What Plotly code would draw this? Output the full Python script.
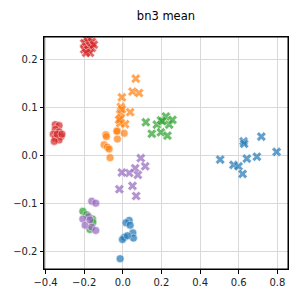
import plotly.graph_objects as go

# colours (tab10)
blue, orange, green, red, purple = "#1f77b4", "#ff7f0e", "#2ca02c", "#d62728", "#9467bd"

red_x_x = [-0.19, -0.17, -0.20, -0.18, -0.16, -0.19, -0.17, -0.20, -0.18, -0.16, -0.17, -0.19, -0.15]
red_x_y = [0.245, 0.245, 0.235, 0.238, 0.238, 0.228, 0.230, 0.222, 0.222, 0.225, 0.215, 0.215, 0.232]

red_o_x = [-0.35, -0.33, -0.35, -0.33, -0.36, -0.32, -0.35, -0.33, -0.355, -0.34, -0.315]
red_o_y = [0.065, 0.063, 0.055, 0.050, 0.045, 0.040, 0.037, 0.033, 0.030, 0.045, 0.045]

orange_x_x = [0.067, 0.05, 0.084, -0.005, -0.01, 0.038, -0.014, -0.01, 0.012, -0.014, -0.019, -0.005]
orange_x_y = [0.161, 0.134, 0.131, 0.122, 0.102, 0.091, 0.087, 0.079, 0.066, 0.068, 0.075, 0.097]

orange_o_x = [-0.088, -0.028, 0.007, -0.028, -0.097, -0.080, -0.071, -0.066, -0.031, -0.085]
orange_o_y = [0.044, 0.052, 0.047, 0.035, 0.023, 0.018, 0.014, -0.004, 0.051, 0.040]

green_x_x = [0.119, 0.15, 0.176, 0.197, 0.197, 0.223, 0.24, 0.257, 0.231, 0.205]
green_x_y = [0.070, 0.046, 0.065, 0.074, 0.049, 0.082, 0.065, 0.075, 0.042, 0.072]

green_o_x = [-0.207, -0.157, -0.17, -0.187, -0.155]
green_o_y = [-0.116, -0.132, -0.154, -0.123, -0.139]

purple_x_x = [0.093, 0.116, 0.064, 0.033, -0.005, 0.078, -0.018, 0.05, 0.069]
purple_x_y = [-0.005, -0.022, -0.026, -0.036, -0.035, -0.040, -0.070, -0.063, -0.084]

purple_o_x = [-0.161, -0.14, -0.178, -0.207, -0.195, -0.161, -0.14, -0.17]
purple_o_y = [-0.095, -0.099, -0.127, -0.132, -0.145, -0.149, -0.156, -0.134]

blue_o_x = [0.033, 0.016, 0.038, 0.052, 0.055, 0.008, -0.002, 0.024, -0.014]
blue_o_y = [-0.135, -0.140, -0.145, -0.161, -0.172, -0.170, -0.175, -0.167, -0.215]

blue_x_x = [0.625, 0.628, 0.717, 0.796, 0.504, 0.573, 0.599, 0.642, 0.694, 0.62]
blue_x_y = [0.030, 0.025, 0.040, 0.008, -0.008, -0.019, -0.022, -0.006, -0.002, -0.038]

x_ticks = [-0.4, -0.2, 0.0, 0.2, 0.4, 0.6, 0.8]
y_ticks = [-0.2, -0.1, 0.0, 0.1, 0.2]

fig = go.Figure()

def add(xs, ys, color, symbol):
    if symbol == "circle":
        m = dict(symbol="circle", size=8, color=color, opacity=0.7,
                 line=dict(color="white", width=0.6))
    else:
        m = dict(symbol="x", size=8.5, color=color, opacity=0.7,
                 line=dict(color="white", width=0.5))
    fig.add_trace(go.Scatter(x=xs, y=ys, mode="markers", marker=m, showlegend=False, hoverinfo="skip"))

add(green_o_x, green_o_y, green, "circle")
add(purple_o_x, purple_o_y, purple, "circle")
add(red_o_x, red_o_y, red, "circle")
add(orange_o_x, orange_o_y, orange, "circle")
add(blue_o_x, blue_o_y, blue, "circle")
add(red_x_x, red_x_y, red, "x")
add(orange_x_x, orange_x_y, orange, "x")
add(green_x_x, green_x_y, green, "x")
add(purple_x_x, purple_x_y, purple, "x")
add(blue_x_x, blue_x_y, blue, "x")

axis_common = dict(showline=True, linecolor="black", linewidth=1, mirror=True,
                   ticks="outside", ticklen=3.5, tickcolor="black",
                   showgrid=True, gridcolor="#d9d9d9", gridwidth=1, zeroline=False,
                   tickfont=dict(family="DejaVu Sans", size=10, color="#222"),
                   tickformat=".1f")

fig.update_layout(
    width=299, height=299,
    margin=dict(l=44, r=11, t=37, b=30),
    paper_bgcolor="white", plot_bgcolor="white",
    title=dict(text="bn3 mean", x=0.555, xanchor="center", y=0.945, yanchor="middle",
               font=dict(family="DejaVu Sans", size=11.5, color="black")),
    xaxis=dict(range=[-0.408, 0.855], tickvals=x_ticks, **axis_common),
    yaxis=dict(range=[-0.2365, 0.248], tickvals=y_ticks, **axis_common),
    shapes=[dict(type="rect", xref="paper", yref="paper", x0=0, y0=0, x1=1, y1=1,
                 line=dict(color="black", width=1), layer="above")],
)

fig.write_html("out.html", config={"displayModeBar": False},
               post_script="document.body.style.margin='0px';document.body.style.overflow='hidden';")
